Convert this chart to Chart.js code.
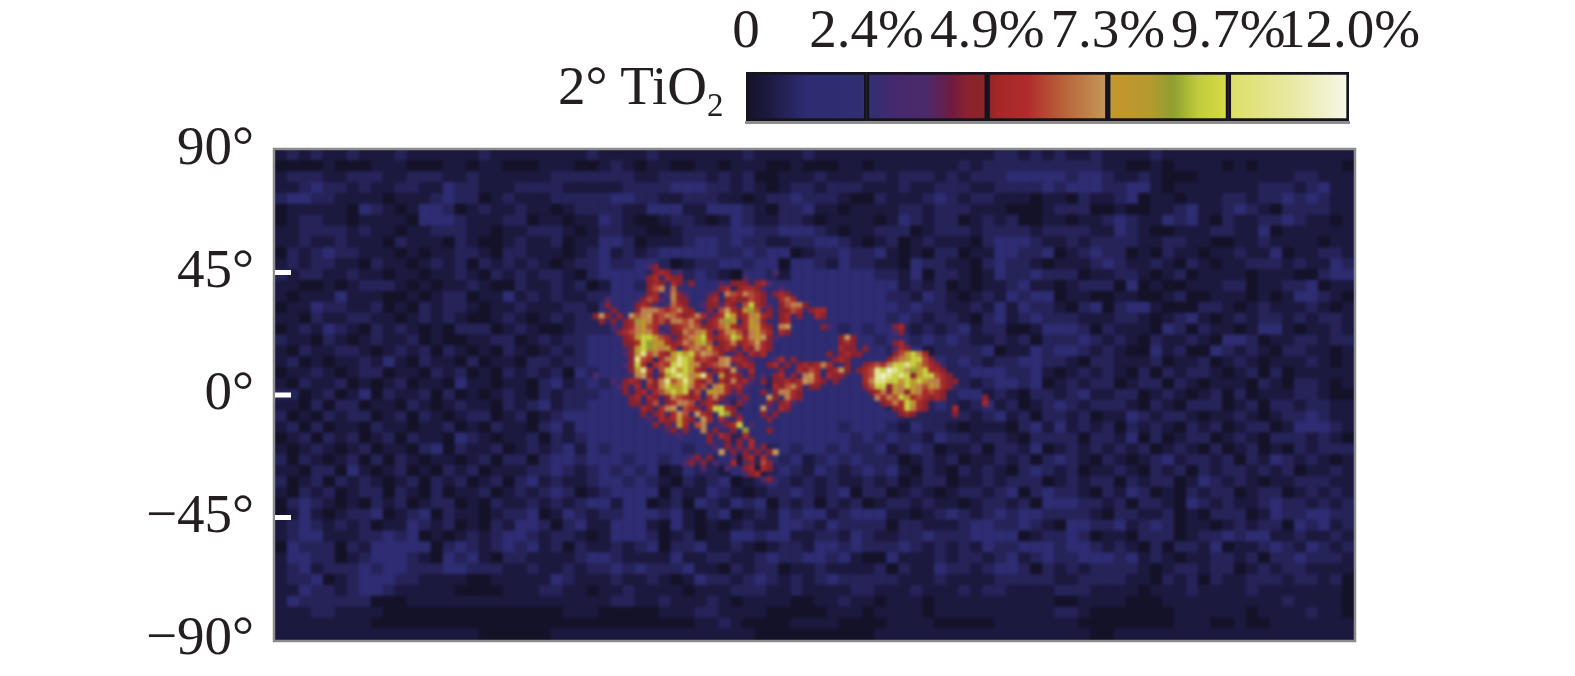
<!DOCTYPE html>
<html>
<head>
<meta charset="utf-8">
<title>2° TiO2</title>
<script src="https://cdn.jsdelivr.net/npm/chart.js@4"></script>
<style>
  html, body { margin: 0; background: #fff; }
  #stage { position: relative; width: 1575px; height: 676px; overflow: hidden; }
  canvas { position: absolute; left: 0; top: 0; }
  #rotulo { position: absolute; left: 558px; top: 54px; font: 55px "Liberation Serif"; color: #231f20; white-space: nowrap; }
  #rotulo sub { font-size: 33px; line-height: 0; }
</style>
</head>
<body>
<div id="stage">
  <canvas id="mapa" width="1575" height="694"></canvas>
  <canvas id="barra" width="1575" height="140"></canvas>
  <div id="rotulo">2° TiO<sub>2</sub></div>
</div>
<script>
// === Axis ticks and colour bar labels ===
const latTicks = [90, 45, 0, -45, -90];
const latLabels = ["90°", "45°", "0°", "−45°", "−90°"];
const latMarks = [45, 0, -45];
const barraLabels = ["0", "2.4%", "4.9%", "7.3%", "9.7%", "12.0%"];
const barraTramos = [[0, 1], [1, 2], [2, 3], [3, 4], [4, 5]];

// === Colour ramp: TiO2 % and its colour ===
const rampaValores = [0, 0.4, 1.2, 2.4, 3.0, 3.6, 4.1, 4.4, 4.8, 5.0, 5.6, 6.3, 7.2, 7.3, 8.0, 8.5, 9.0, 9.6, 9.7, 10.8, 12];
const rampaColores = ["#141228", "#1b193e", "#2e2c72", "#302f72", "#46296e", "#4c2a6a", "#701b40", "#8a2230", "#8a2626", "#a42828", "#b02c2c", "#b8613a", "#c69a58", "#c4962e", "#b69a2e", "#8f9f32", "#c0cc3c", "#d8dc46", "#dde06a", "#e8e8a0", "#f7f7ea"];

// === Whole map, 4° cells, one character = 0.4 % TiO2 (base 36), north at top ===
const filasFondo = [
  "1212112111 2111111211 1111112111 1211111112 1111211111 1111111111 2212121121 1112111111 1111111111",
  "0000100011 1000110110 0011100121 0110011011 1001000110 1111111212 2222222221 1001011110 1011111110",
  "1222112221 1222112111 1112222222 1122221212 0011121112 2122212122 2333332332 1121000111 1111122111",
  "1123221211 2211322111 2222111112 2223332212 1012212221 1121122211 2222323332 2331011111 1122212311",
  "2332211110 1112322012 1112222233 2211222110 1223222100 2111232122 1110110211 2301101112 2122323211",
  "0111110321 0133201211 2110122221 1333113332 1022311011 1122122211 1000122200 1001123112 3210222211",
  "0122110111 1033321112 2011011321 0012210132 1122101111 0132122012 1200110112 3211323102 1122321101",
  "1122221211 0112221101 1222101221 1001222233 2233321011 2220122212 2221222211 3210011122 1130111111",
  "1121121110 2111021001 2112011332 0111233232 2112233210 1201211102 3332112122 2211221100 1121111011",
  "0212322111 0101122102 2111012312 1233333223 2330122322 3101022011 3322301232 2010211011 2113011221",
  "1212211021 1012120212 1210122322 3320122332 3303321322 1103221102 3221011123 2112102101 1222121132",
  "2122112110 1101121021 2122102333 3233232103 3213333333 2213022101 3223222011 2210120111 1011100233",
  "1100101222 1010112100 2112120133 2333333323 3333333333 3312120101 1231101222 0301001112 2011223011",
  "1011131110 0101220113 1212112233 3333333333 3333333333 3221321012 1323301100 1100120011 1010133210",
  "0113221120 1021221011 2111221333 3333333333 3333333333 3323221121 3132210230 2331000221 0121112101",
  "1102112211 0121210012 1012122333 3333333333 3323333333 3232122102 3123222111 2210123101 2122121221",
  "0121321021 2101022201 2100122233 3333333333 3333333232 3321212312 2001333202 1110320211 0133101121",
  "2110210121 1201001122 0121223333 3333333333 3333333333 2332323211 2120222321 2102112103 3201122122",
  "1021122101 2120210102 1012123333 3333332333 3333333333 3233122223 0113233212 1003120032 1210221101",
  "1201011213 1021102011 0221223333 3233333333 3333333333 3223232321 2233221022 1112011201 2101112101",
  "0112101220 1102120102 1212032333 3333333333 3333333333 3332212233 3223101212 1020212210 1202011111",
  "1021120101 2011031101 1023123233 3333333333 3233333333 3233223212 3323012122 0122021011 1021022101",
  "2201201302 1120201012 1021222333 3333333333 3333333333 3322102331 2102212311 2201210120 2011122100",
  "1102022011 0210121102 1231223333 3333333323 3333333333 3212232123 1201232122 2102102220 1202212211",
  "2010212201 2021012201 2012333333 3333333333 3333333333 3322222212 3120221201 1321221011 2101223211",
  "1202011021 1011201021 1023133333 3333333333 3333333233 3213221011 1023131212 0212102120 1220133321",
  "0120212012 0211032101 1202123333 3333333323 3333333323 2322132212 2102222022 1302012201 2102221210",
  "1012101201 1023021120 1212313233 3333233333 3232332322 3123201120 2213012121 2120121020 1201021222",
  "2021012020 2101101202 2023323332 3323332313 2323123232 2201212011 2120232102 1012312212 0213212101",
  "1102203101 2010212011 1223212323 2301322133 1232132123 2310210212 1023212011 2102120212 2121201121",
  "2012021210 1202120120 2312112332 3210212301 2321212112 1201220112 1222012122 0212201321 2101122211",
  "1021201220 2102011201 2123201233 3302113210 1223212302 2012101221 2302322102 1320102122 0122012121",
  "0232101021 2012201021 1212123313 3012032132 3021202120 1221211012 2120333221 2022103212 1123221212",
  "0131012230 1230211012 2301321223 3323102301 2132331233 3110123212 3233222210 2211201022 2013223322",
  "1232121201 1321201021 3320231133 3103101012 1133213222 2022111233 2232103322 3123201101 2122032312",
  "1233111223 2301012123 3212210133 3201201133 2331122132 1122322233 3301223201 1022201223 2331121121",
  "0322202133 3330232123 2312021121 2302231121 0122133232 2232121213 2233323321 2102022130 1123213212",
  "1332201233 3210323102 2111123321 1113112211 2322332310 0311121221 2312322333 2312101122 1202232221",
  "1231222323 3222332221 1211212232 3222311021 2201121111 2021132212 3320212122 2210122122 0121221111",
  "1223012333 2211110011 1113211121 1210132212 3212123222 2211121111 2222211222 2110212021 1222122120",
  "1132212332 1111100001 1122110112 1111011122 2112111122 1112111212 2111122211 1101112111 1211111110",
  "1322222200 0111111111 1111111122 1121112101 1110011211 0111011111 1111100111 1000111111 1111211110",
  "1112211110 0000000000 0000111000 0011122111 1000001110 1111011111 1111122100 0000011111 1011112110",
  "1111111100 0000000000 0000000000 0000011210 0001111000 0111100000 1111111000 0000011100 1001111111",
  "1111111111 1111111000 0001111111 1111111111 0000000000 1111111111 1111111100 1111111111 1111111111"
];

// === Nearside mare patch, 2° cells, same coding, "." = nothing ===
const lonInicioDetalle = -80;
const latInicioDetalle = 48;
const filasDetalle = [
  ".......... ..9b...... .......... .......... .......... .......... ..........",
  ".......... ...bdb.9.. .......... ...9...... .......... .......... ..........",
  ".......... ..bd.dcb.. ........9. .......... .......... .......... ..........",
  ".......... ..bdc.db.b ....9.bcb. bd9....... .......... .......... ..........",
  ".......... ..cfh.g5.. ....bd.cdd c9..9..... .......... .......... ..........",
  ".......... ..bd.9hb9. ..9b.hfdhf db.bdb.... .......... .......... ..........",
  ".....9.... .bfd9.hcb. ..bd.cdcbf db..dgd... .......... .......... ..........",
  ".....b.... bdc9.9gdb. .9bc9db.fn db9.bfhhb. .......... .......... ..........",
  "......b... bhhhfdfhdc ..b.fidbjl f9b.bcfd.b dd........ .......... ..........",
  "...bib.b.i fhidfhgdbd hd9bdnjbdh jdb.bd.b.. db........ .......... ..........",
  "....b.b.bd ljhdfbhhfh d.bdhlj.dj hb..bd.... .......... .......... ..........",
  "......9.bd hjfd.9cdfh fbbdgjdbdj jdb.hi.... .b9....... ...bd..... ..........",
  ".......bdf hjhd9.bchf hjd.dhjfbh jfd.db.... .......... ...9b..... ..........",
  "........bd jnnjfd9bfh jndbdfnjdh jib9...... ....bib... .......... ..........",
  "........bc dnljjdbdhf jmf.cdhbdf idb....... ....bdb... ...bd..... ..........",
  "........9b jnljhjd.dg hfjdbdc.db hdb....... ....dbb.b. ...9db.... ..........",
  "........9b jqfhdbjnjn fihfb.9b.d bd........ ..b.bdbb.. ...bfjnhd. ..........",
  ".........b qfd.dhjqnj dfdbhiddb9 ...9d.b... ...bdb.... ..bfhjnnfb ..........",
  "........9b nd.dfdnqnj hbdfhi9bdb ..bd.b.bdc dhd..b..bd fdhnnqnjfd b.........",
  ".........b jqd.fnqjnj db.bdbi9.d ....b..dbf d.bdib.bdf qntqniljnd db........",
  "...9.....9 hib.bjnqnh jqd.jbdb.b .9.bd.b.hi d.dbb...df qtqnqnbjnn fdb.......",
  "......9.bd b.fbhqfjqj dbf.dbhbd9 .b.bbdbdih db.b....dh qqnnjnjnjh hdbb......",
  ".......9b. d.dbhnjjnh df.hjdbd9. ...dbfhd.b b.......bf nnbjhnjhfj hdb.......",
  "........b. bd.dfjnjnb f.jjhd9b.. .b.bhhdb.. .........b dhbjhbjhdf db........",
  ".........b d.db.bhfdb d.dhb..9b. ..ib.hdb.. .......... hdhfnjdfdb db......b.",
  ".........b b.bf.bdhhf .bdb.9.b9. ..b.bd9... .......... .bdhdnjdb. ........d.",
  ".......... .db.dhi.fd b.dnndb... .i9.db.... .......... ...bdnhdb. ...d......",
  ".......... .b.bd.dif. idb.nlb9.. .b.b...... .......... ....bdb... ...b......",
  ".......... ..9.dbdjdb .id.d9.d.. ..b....... .......... .......... ..........",
  ".......... ...b.b9jd. fh..9bdn.9 .......... .......... .......... ..........",
  ".......... .....9b.b. .h.b..b.l. ..b....... .......... .......... ..........",
  ".......... .......9.. ..b.db..d. .......... .......... .......... ..........",
  ".......... .......... ..b..b.b.d .......... .......... .......... ..........",
  ".......... .......... ...9.b.b.d .b........ .......... .......... ..........",
  ".......... .......... ....i.b.b. b.bi...... .......... .......... ..........",
  ".......... .........9 b.b...9.bd .d........ .......... .......... ..........",
  ".......... ........9b .b.9..d.9b .fb....... .......... .......... ..........",
  ".......... .......... .9...9..bd .db....... .......... .......... ..........",
  ".......... .......... ........9b d......... .......... .......... ..........",
  ".......... .......... .......... .9b....... .......... .......... .........."
];

const fuente = "Liberation Serif";
const colorTexto = "#231f20";

// === Colour of a TiO2 value, read from the ramp ===
function hexARgb(hex) {
  return [1, 3, 5].map(i => parseInt(hex.substr(i, 2), 16));
}

function colorDeValor(v) {
  let i = 0;
  while (i < rampaValores.length - 2 && v > rampaValores[i + 1]) i++;
  const t = Math.min(1, (v - rampaValores[i]) / (rampaValores[i + 1] - rampaValores[i]));
  const a = hexARgb(rampaColores[i]);
  const b = hexARgb(rampaColores[i + 1]);
  return `rgb(${a.map((c, k) => Math.round(c + (b[k] - c) * t)).join(",")})`;
}

// === Text rows to {x, y, v} cells ===
function celdas(filas, lon0, lat0, paso) {
  const puntos = [];
  filas.forEach((fila, r) => {
    fila.replace(/ /g, "").split("").forEach((ch, c) => {
      if (ch === ".") return;
      puntos.push({
        x: lon0 + (c + 0.5) * paso,
        y: lat0 - (r + 0.5) * paso,
        v: parseInt(ch, 36) * 0.4
      });
    });
  });
  return puntos;
}

// Dark base under the cells, soft focus of the scanned map, grey frame and white ticks
const estiloMapa = {
  id: "estiloMapa",
  beforeDatasetsDraw(chart) {
    const { ctx, chartArea: a } = chart;
    ctx.save();
    ctx.fillStyle = "#1c1a44";
    ctx.fillRect(a.left, a.top, a.width, a.height);
    ctx.restore();
  },
  afterDatasetsDraw(chart) {
    const { ctx, chartArea: a, scales } = chart;
    ctx.save();
    ctx.beginPath();
    ctx.rect(a.left, a.top, a.width, a.height);
    ctx.clip();
    ctx.filter = "blur(1.8px)";
    ctx.drawImage(chart.canvas, a.left, a.top, a.width, a.height, a.left, a.top, a.width, a.height);
    ctx.restore();
    ctx.save();
    ctx.strokeStyle = "#8c8c8c";
    ctx.lineWidth = 2.5;
    ctx.strokeRect(a.left - 1, a.top - 1, a.width + 2, a.height + 2);
    ctx.fillStyle = "#ffffff";
    latMarks.forEach(lat => {
      ctx.fillRect(a.left, scales.y.getPixelForValue(lat) - 2.5, 16, 5);
    });
    ctx.restore();
  }
};

new Chart(document.getElementById("mapa"), {
  type: "scatter",
  data: {
    datasets: [
      {
        data: celdas(filasDetalle, lonInicioDetalle, latInicioDetalle, 2),
        pointStyle: "rect",
        pointRadius: 4.4,
        pointBorderWidth: 0,
        pointBackgroundColor: c => colorDeValor(c.raw.v)
      },
      {
        data: celdas(filasFondo, -180, 90, 4),
        pointStyle: "rect",
        pointRadius: 8.6,
        pointBorderWidth: 0,
        pointBackgroundColor: c => colorDeValor(c.raw.v)
      }
    ]
  },
  options: {
    responsive: false,
    animation: false,
    devicePixelRatio: 1,
    events: [],
    layout: { padding: { left: 0, right: 221, top: 150, bottom: 19 } },
    plugins: { legend: { display: false }, tooltip: { enabled: false } },
    scales: {
      x: { type: "linear", min: -180, max: 180, display: false },
      y: {
        type: "linear",
        min: -90,
        max: 90,
        border: { display: false },
        grid: { display: false, drawTicks: false },
        afterFit: s => { s.width = 275; },
        afterBuildTicks: s => { s.ticks = latTicks.map(value => ({ value })); },
        ticks: {
          padding: 21,
          color: colorTexto,
          font: { family: fuente, size: 55 },
          callback: v => latLabels[latTicks.indexOf(v)]
        }
      }
    }
  },
  plugins: [estiloMapa]
});

// === Colour bar: five framed segments over the same ramp ===
function gradienteBarra(ctx) {
  const a = ctx.chart.chartArea;
  if (!a) return rampaColores[0];
  const g = ctx.chart.ctx.createLinearGradient(a.left, 0, a.right, 0);
  rampaValores.forEach((v, i) => g.addColorStop(v / 12, rampaColores[i]));
  return g;
}

const sombraBarra = {
  id: "sombraBarra",
  beforeDatasetsDraw(chart) {
    const { ctx, chartArea: a } = chart;
    ctx.save();
    ctx.fillStyle = "#8e8e8e";
    ctx.fillRect(a.left - 1, a.bottom, a.width + 2, 3);
    ctx.restore();
  }
};

new Chart(document.getElementById("barra"), {
  type: "bar",
  data: {
    labels: ["TiO2"],
    datasets: barraTramos.map(t => ({
      data: [t],
      grouped: false,
      backgroundColor: gradienteBarra,
      borderColor: "#15141c",
      borderWidth: 3,
      borderSkipped: false,
      barPercentage: 1,
      categoryPercentage: 1
    }))
  },
  options: {
    indexAxis: "y",
    responsive: false,
    animation: false,
    devicePixelRatio: 1,
    events: [],
    layout: { padding: { left: 746, right: 226, top: 0, bottom: 19 } },
    plugins: { legend: { display: false }, tooltip: { enabled: false } },
    scales: {
      y: { display: false },
      x: {
        type: "linear",
        position: "top",
        min: 0,
        max: 5,
        border: { display: false },
        grid: { display: false, drawTicks: false },
        afterFit: s => { s.height = 72; },
        afterBuildTicks: s => { s.ticks = barraLabels.map((_, value) => ({ value })); },
        ticks: {
          padding: 6,
          maxRotation: 0,
          autoSkip: false,
          color: colorTexto,
          font: { family: fuente, size: 55 },
          callback: v => barraLabels[v]
        }
      }
    }
  },
  plugins: [sombraBarra]
});
</script>
</body>
</html>
